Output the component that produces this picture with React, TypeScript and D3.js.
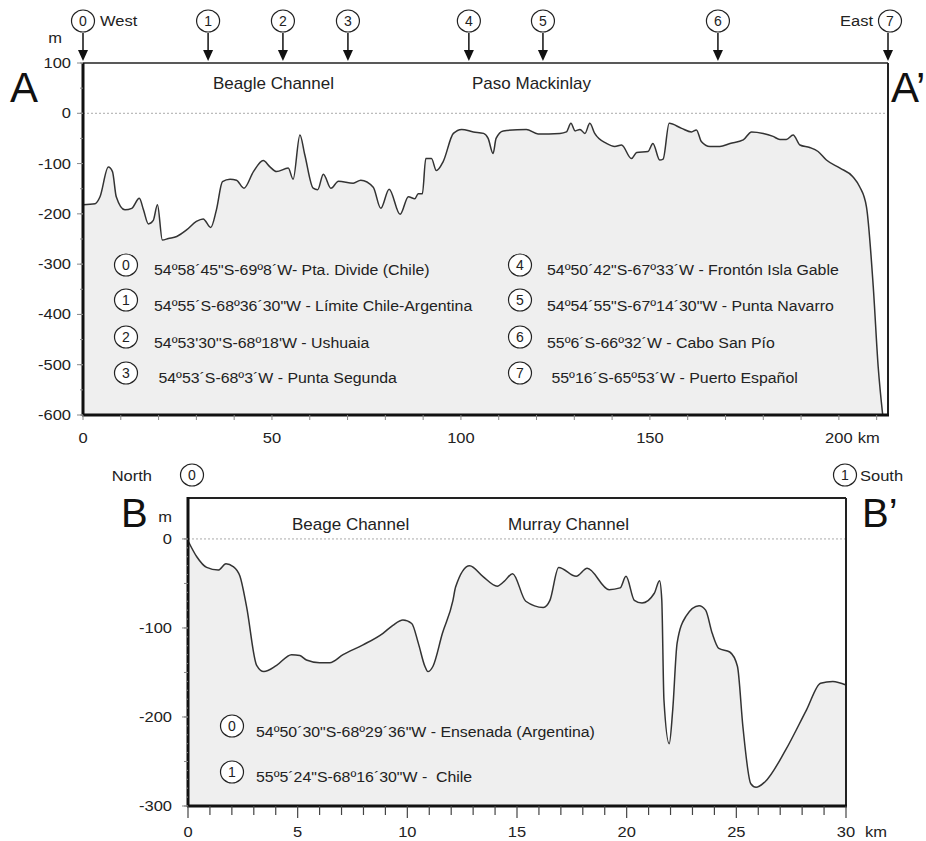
import React from "react";
import * as d3 from "d3";

// ---------- Profile A–A' (West → East) ----------
const aKm = [0, 3.2, 4.5, 6.7, 7.8, 8.8, 11.1, 12.9, 14.9, 16.0, 17.3, 18.6, 19.7, 21.0, 22.6, 24.8, 27.4, 30.0, 31.8, 33.8, 35.3, 36.9, 38.9, 40.6, 42.6, 45.1, 47.7, 49.4, 51.2, 54.3, 55.6, 57.4, 58.7, 60.9, 62.1, 63.6, 65.6, 67.6, 71.5, 73.5, 76.8, 78.8, 81.0, 83.9, 86.1, 87.8, 88.7, 89.8, 90.7, 92.2, 93.5, 95.3, 98.0, 100.2, 103.3, 106.0, 107.2, 108.5, 109.3, 111.2, 117.3, 120.4, 126.2, 127.9, 129.1, 130.2, 131.5, 132.8, 134.1, 135.4, 138.5, 140.7, 142.5, 145.1, 146.5, 149.5, 150.8, 152.6, 153.5, 155.1, 158.4, 161.0, 162.3, 163.6, 165.9, 168.5, 171.2, 174.7, 176.9, 180.0, 182.6, 184.4, 186.1, 187.9, 189.7, 192.3, 194.5, 196.7, 200.3, 203.7, 205.5, 207.3, 209.1, 210.4, 211.6];
const aDepth = [-182, -180, -166, -107, -116, -166, -192, -189, -169, -192, -220, -213, -182, -252, -249, -245, -232, -215, -210, -227, -192, -136, -131, -133, -149, -116, -94, -106, -116, -109, -131, -43, -83, -149, -152, -121, -149, -135, -139, -133, -147, -189, -151, -201, -166, -170, -160, -160, -90, -90, -114, -96, -40, -32, -37, -40, -50, -80, -50, -35, -32, -41, -40, -37, -20, -35, -32, -40, -20, -40, -60, -66, -63, -90, -78, -76, -60, -93, -91, -20, -30, -37, -33, -56, -66, -66, -60, -53, -37, -40, -46, -52, -52, -43, -63, -68, -76, -93, -109, -126, -146, -186, -345, -504, -600];
const aXTicks = [0, 50, 100, 150, 200];
const aYTicks = [100, 0, -100, -200, -300, -400, -500, -600];
const aMarkerKm = [0, 33.1, 52.9, 70.1, 102.1, 121.7, 168, 213];
const aMarkerLabels = ["0", "1", "2", "3", "4", "5", "6", "7"];
const aLegendText = [
  "54º58´45\"S-69º8´W- Pta. Divide (Chile)",
  "54º55´S-68º36´30\"W - Límite Chile-Argentina",
  "54º53'30''S-68º18'W - Ushuaia",
  " 54º53´S-68º3´W - Punta Segunda",
  "54º50´42\"S-67º33´W - Frontón Isla Gable",
  "54º54´55\"S-67º14´30\"W - Punta Navarro",
  "55º6´S-66º32´W - Cabo San Pío",
  " 55º16´S-65º53´W - Puerto Español",
];
const aChannelNames = ["Beagle Channel", "Paso Mackinlay"];

// ---------- Profile B–B' (North → South) ----------
const bKm = [0, 0.4, 0.85, 1.38, 1.73, 2.06, 2.37, 2.67, 3.13, 3.46, 4.04, 4.72, 5.1, 5.4, 6.0, 6.46, 7.07, 7.98, 8.89, 9.34, 9.8, 10.2, 10.5, 10.8, 10.94, 11.17, 11.6, 12.08, 12.2, 12.84, 13.44, 14.1, 14.4, 14.8, 15.4, 16.2, 16.5, 16.9, 17.7, 18.2, 19.2, 19.7, 19.97, 20.35, 20.7, 21.26, 21.5, 21.6, 21.7, 21.94, 22.1, 22.3, 22.7, 23.3, 23.6, 23.9, 24.2, 24.7, 25.05, 25.3, 25.66, 25.9, 26.3, 27.25, 28.2, 28.84, 29.4, 30];
const bDepth = [-2, -20, -32, -35, -28, -31, -42, -76, -142, -149, -142, -130, -131, -136, -139, -139, -130, -119, -106, -97, -91, -95, -117, -143, -149, -143, -106, -69, -54, -30, -42, -53, -48, -39, -70, -77, -69, -32, -42, -33, -57, -55, -42, -69, -72, -61, -47, -68, -181, -230, -192, -117, -87, -75, -80, -106, -123, -127, -143, -211, -275, -279, -273, -237, -192, -162, -160, -164];
const bXTicks = [0, 5, 10, 15, 20, 25, 30];
const bYTicks = [0, -100, -200, -300];
const bLegendText = [
  "54º50´30\"S-68º29´36\"W - Ensenada (Argentina)",
  "55º5´24\"S-68º16´30\"W -  Chile",
];
const bChannelNames = ["Beage Channel", "Murray Channel"];

const FONT = "'Liberation Sans', Arial, Helvetica, sans-serif";
const FILL = "#efefef";
const LINE = "#333";
const SX = 1.1; // horizontal stretch of the small text
const SXL = 1.06; // horizontal stretch of legend text

function T({ x, y, size, anchor = "start", children, sx = SX }: { x: number; y: number; size: number; anchor?: string; children: React.ReactNode; sx?: number }) {
  return (
    <text transform={`translate(${x},${y}) scale(${sx},1)`} textAnchor={anchor} fontSize={size} fill="#222" style={{ whiteSpace: "pre" }}>
      {children}
    </text>
  );
}

function Circled({ x, y, label, r = 11.5, size = 14 }: { x: number; y: number; label: string; r?: number; size?: number }) {
  return (
    <g>
      <ellipse cx={x} cy={y} rx={r} ry={r - 0.5} fill="white" stroke="#222" strokeWidth={1.2} />
      <text x={x} y={y + size * 0.36} textAnchor="middle" fontSize={size} fontFamily={FONT} fill="#222">
        {label}
      </text>
    </g>
  );
}

export default function App() {
  // ---- Chart A geometry ----
  const aL = 83, aR = 888, aT = 63, aB = 415;
  const ax = d3.scaleLinear().domain([0, 213]).range([aL, aR]);
  const ay = d3.scaleLinear().domain([-600, 100]).range([aB, aT]);
  const aData = aKm.map((k, i) => [k, aDepth[i]] as [number, number]);
  const aArea = d3.area<[number, number]>().x(d => ax(d[0])).y0(aB).y1(d => ay(d[1])).curve(d3.curveMonotoneX);
  const aLine = d3.line<[number, number]>().x(d => ax(d[0])).y(d => ay(d[1])).curve(d3.curveMonotoneX);
  const aMinorX = d3.range(0, 211, 10);
  const aMinorY = d3.range(-600, 101, 50);

  // ---- Chart B geometry ----
  const bL = 188, bR = 846, bT = 498, bB = 806;
  const bx = d3.scaleLinear().domain([0, 30]).range([bL, bR]);
  const by = d3.scaleLinear().domain([-300, 46]).range([bB, bT]);
  const bData = bKm.map((k, i) => [k, bDepth[i]] as [number, number]);
  const bArea = d3.area<[number, number]>().x(d => bx(d[0])).y0(bB).y1(d => by(d[1])).curve(d3.curveMonotoneX);
  const bLine = d3.line<[number, number]>().x(d => bx(d[0])).y(d => by(d[1])).curve(d3.curveMonotoneX);
  const bMinorX = d3.range(0, 31, 1);
  const bMinorY = d3.range(-300, 1, 10);

  const aLegendRows = [
    { cy: 265, by: 275 },
    { cy: 300, by: 311 },
    { cy: 337, by: 348 },
    { cy: 373, by: 383 },
  ];

  return (
    <svg width={926} height={841} style={{ position: "absolute", left: 0, top: 0, background: "white" }} fontFamily={FONT}>
      {/* ================= Chart A ================= */}
      <path d={aArea(aData) || ""} fill={FILL} />
      <path d={aLine(aData) || ""} fill="none" stroke={LINE} strokeWidth={1.5} />
      <line x1={aL} x2={aR} y1={ay(0)} y2={ay(0)} stroke="#aaa" strokeWidth={1} strokeDasharray="2,2" />
      {/* frame */}
      <line x1={aL} x2={aR} y1={aT} y2={aT} stroke="#222" strokeWidth={1.5} />
      <line x1={aR} x2={aR} y1={aT} y2={aB} stroke="#222" strokeWidth={2} />
      <line x1={aL} x2={aL} y1={aT} y2={aB + 1} stroke="#111" strokeWidth={3} />
      <line x1={aL - 1} x2={aR + 1} y1={aB} y2={aB} stroke="#111" strokeWidth={3} />
      {/* y ticks */}
      {aMinorY.map(v => (
        <line key={"amy" + v} x1={aL - 3} x2={aL} y1={ay(v)} y2={ay(v)} stroke="#888" strokeWidth={1} />
      ))}
      {aYTicks.map(v => (
        <g key={"ay" + v}>
          <line x1={aL - 6} x2={aL} y1={ay(v)} y2={ay(v)} stroke="#888" strokeWidth={1} />
          <T x={aL - 12} y={ay(v) + 5} size={15} anchor="end">{v}</T>
        </g>
      ))}
      <T x={55} y={43} size={15} anchor="middle">m</T>
      {/* x ticks */}
      {aMinorX.map(v => (
        <line key={"amx" + v} x1={ax(v)} x2={ax(v)} y1={aB} y2={aB + 5} stroke="#888" strokeWidth={1} />
      ))}
      {aXTicks.map(v => (
        <T key={"ax" + v} x={ax(v)} y={443} size={15} anchor="middle">{v}</T>
      ))}
      <T x={ax(200) + 19} y={443} size={15}>km</T>
      {/* section letters */}
      <text x={10} y={102} fontSize={42} fill="#111">A</text>
      <text x={891} y={102} fontSize={42} fill="#111">A’</text>
      {/* channel names */}
      <text x={213} y={89} fontSize={17} fill="#222">{aChannelNames[0]}</text>
      <text x={472} y={89} fontSize={17} fill="#222">{aChannelNames[1]}</text>
      {/* markers */}
      {aMarkerKm.map((k, i) => {
        const x = ax(k);
        return (
          <g key={"am" + i}>
            <line x1={x} x2={x} y1={33} y2={52} stroke="#111" strokeWidth={1.5} />
            <path d={`M${x - 5},50 L${x + 5},50 L${x},61 Z`} fill="#111" />
            <Circled x={i === 7 ? x + 2 : x} y={21} label={aMarkerLabels[i]} />
          </g>
        );
      })}
      <T x={100} y={26} size={15}>West</T>
      <T x={873} y={26} size={15} anchor="end">East</T>
      {/* legend */}
      {aLegendText.map((t, i) => {
        const col = i < 4 ? 0 : 1;
        const row = aLegendRows[i % 4];
        const cx = col === 0 ? 126 : 520;
        const tx = col === 0 ? 154 : 547;
        return (
          <g key={"al" + i}>
            <Circled x={cx} y={row.cy} label={aMarkerLabels[i]} />
            <T x={tx} y={row.by} size={15} sx={SXL}>{t}</T>
          </g>
        );
      })}

      {/* ================= Chart B ================= */}
      <path d={bArea(bData) || ""} fill={FILL} />
      <path d={bLine(bData) || ""} fill="none" stroke={LINE} strokeWidth={1.5} />
      <line x1={bL} x2={bR} y1={by(0)} y2={by(0)} stroke="#aaa" strokeWidth={1} strokeDasharray="2,2" />
      <line x1={bL} x2={bR} y1={bT} y2={bT} stroke="#222" strokeWidth={2} />
      <line x1={bR} x2={bR} y1={bT} y2={bB} stroke="#222" strokeWidth={2} />
      <line x1={bL} x2={bL} y1={bT - 1} y2={bB + 1} stroke="#111" strokeWidth={3} />
      <line x1={bL - 1} x2={bR + 1} y1={bB} y2={bB} stroke="#111" strokeWidth={3} />
      {bMinorY.map(v => (
        <line key={"bmy" + v} x1={bL - (v % 50 === 0 ? 4 : 2)} x2={bL} y1={by(v)} y2={by(v)} stroke="#888" strokeWidth={1} />
      ))}
      {bYTicks.map(v => (
        <g key={"by" + v}>
          <line x1={bL - 6} x2={bL} y1={by(v)} y2={by(v)} stroke="#888" strokeWidth={1} />
          <T x={bL - 16} y={by(v) + 5} size={15} anchor="end">{v}</T>
        </g>
      ))}
      {bMinorX.map(v => (
        <line key={"bmx" + v} x1={bx(v)} x2={bx(v)} y1={bB} y2={bB + (v % 5 === 0 ? 12 : 9)} stroke="#444" strokeWidth={1.2} />
      ))}
      {bXTicks.map(v => (
        <T key={"bx" + v} x={bx(v)} y={837} size={15} anchor="middle">{v}</T>
      ))}
      <T x={865} y={837} size={15}>km</T>
      <T x={165} y={522} size={15} anchor="middle">m</T>
      <text x={121} y={527} fontSize={40} fill="#111">B</text>
      <text x={862} y={527} fontSize={40} fill="#111">B’</text>
      <text x={292} y={530} fontSize={17} fill="#222">{bChannelNames[0]}</text>
      <text x={508} y={530} fontSize={17} fill="#222">{bChannelNames[1]}</text>
      <Circled x={192} y={475} label="0" />
      <Circled x={845} y={475} label="1" />
      <T x={152} y={481} size={15} anchor="end">North</T>
      <T x={860} y={481} size={15}>South</T>
      {bLegendText.map((t, i) => (
        <g key={"bl" + i}>
          <Circled x={232} y={i === 0 ? 726 : 772} label={String(i)} />
          <T x={256} y={i === 0 ? 737 : 782} size={15} sx={SXL}>{t}</T>
        </g>
      ))}
    </svg>
  );
}
